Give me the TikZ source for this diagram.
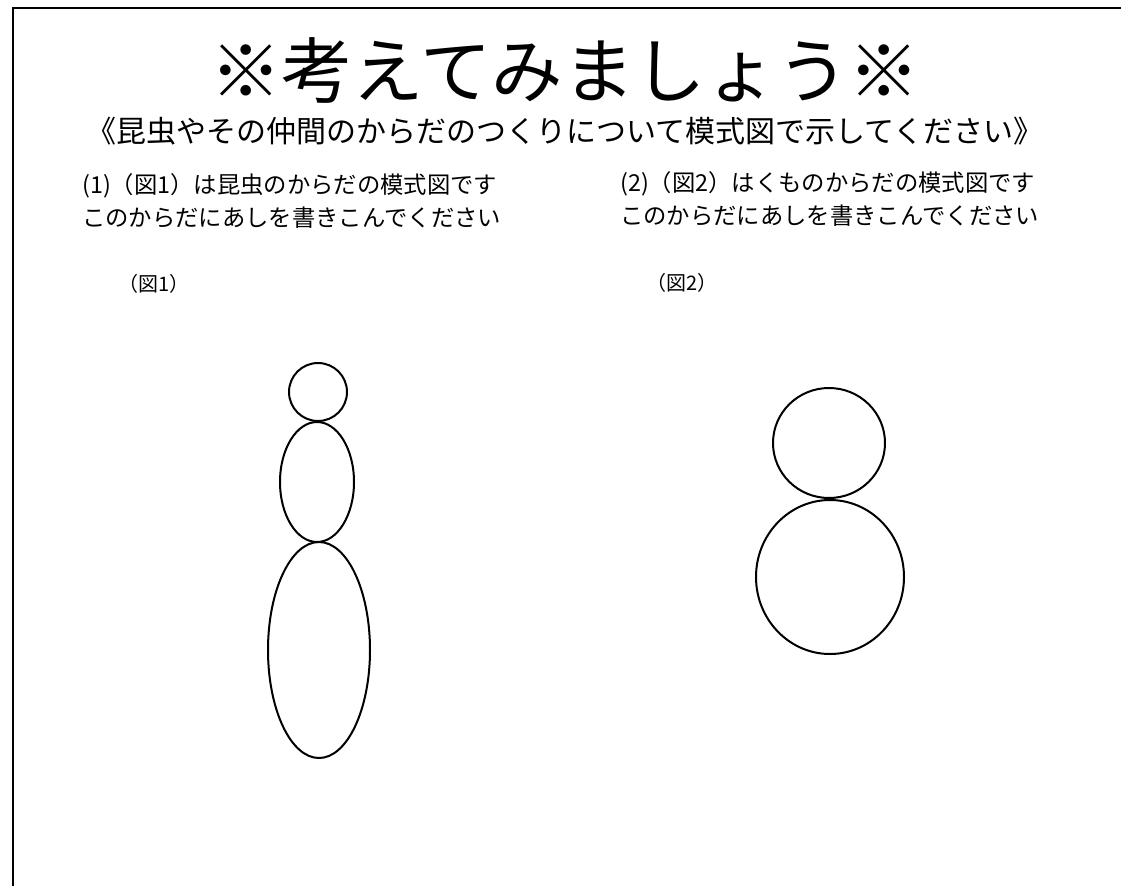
\documentclass[tikz,border=0pt]{standalone}
\usepackage{fontspec}
\setmainfont{Noto Sans CJK JP}
\usepackage{tikz}

\begin{document}
\begin{tikzpicture}[x=0.75pt,y=0.75pt,yscale=-1,xscale=1]
\tikzset{body/.style={line width=1.5pt},
  txt/.style={anchor=west,inner sep=0pt,font=\fontsize{17.5pt}{22pt}\selectfont}}
\useasboundingbox (0,0) rectangle (1121,886);
%Frame
\draw [line width=1.6pt]   (13,886) -- (13,8) -- (1121,8) ;
%Title
\node [inner sep=0pt,font=\fontsize{53.5pt}{60pt}\selectfont] (title) at (565,70) {※考えてみましょう※};
\node [inner sep=0pt,font=\fontsize{22.5pt}{26pt}\selectfont] (sub) at (565,131) {《昆虫やその仲間のからだのつくりについて模式図で示してください》};
%Questions
\node [txt] (q1a) at (82,186) {(1)（図1）は昆虫のからだの模式図です};
\node [txt] (q1b) at (82,218) {このからだにあしを書きこんでください};
\node [txt] (q2a) at (620,184) {(2)（図2）はくものからだの模式図です};
\node [txt] (q2b) at (620,216) {このからだにあしを書きこんでください};
\node [txt,font=\fontsize{15pt}{17pt}\selectfont] (fig1) at (118,284) {（図1）};
\node [txt,font=\fontsize{15pt}{17pt}\selectfont] (fig2) at (646,283) {（図2）};
%Shape: Insect
\draw [body] (318,392) circle [radius=29] ;
\draw [body] (317,482) ellipse [x radius=37, y radius=60] ;
\draw [body] (319,650) ellipse [x radius=51, y radius=108] ;
%Shape: Spider
\draw [body] (829,443) ellipse [x radius=56, y radius=55] ;
\draw [body] (830,577) ellipse [x radius=74, y radius=77] ;
\end{tikzpicture}
\end{document}
